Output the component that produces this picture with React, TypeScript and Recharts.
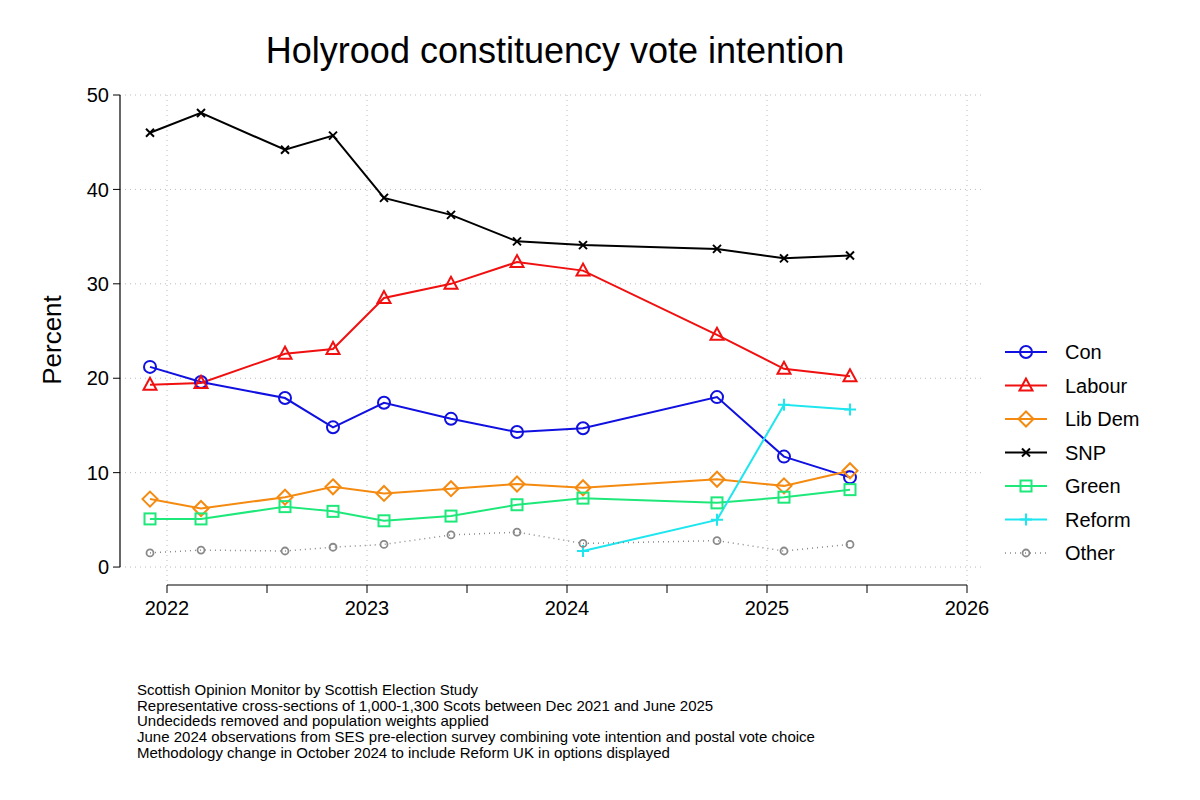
import React from 'react';
import { LineChart, Line, XAxis, YAxis, CartesianGrid, ReferenceLine } from 'recharts';

const waveDates = [2021.915, 2022.17, 2022.59, 2022.83, 2023.085, 2023.42, 2023.75, 2024.08, 2024.75, 2025.085, 2025.415];
const con = [21.2, 19.6, 17.9, 14.8, 17.4, 15.7, 14.3, 14.7, 18.0, 11.7, 9.5];
const labour = [19.3, 19.5, 22.6, 23.1, 28.5, 30.0, 32.3, 31.4, 24.6, 21.0, 20.2];
const libDem = [7.2, 6.2, 7.4, 8.5, 7.8, 8.3, 8.8, 8.4, 9.3, 8.6, 10.2];
const snp = [46.0, 48.1, 44.2, 45.7, 39.1, 37.3, 34.5, 34.1, 33.7, 32.7, 33.0];
const green = [5.1, 5.1, 6.4, 5.9, 4.9, 5.4, 6.6, 7.3, 6.8, 7.4, 8.2];
const reform = [null, null, null, null, null, null, null, 1.7, 5.0, 17.2, 16.7];
const other = [1.5, 1.8, 1.7, 2.1, 2.4, 3.4, 3.7, 2.5, 2.8, 1.7, 2.4];

const yearTicks = [2022, 2022.5, 2023, 2023.5, 2024, 2024.5, 2025, 2025.5, 2026];
const yTicks = [0, 10, 20, 30, 40, 50];

const notes = [
  'Scottish Opinion Monitor by Scottish Election Study',
  'Representative cross-sections of 1,000-1,300 Scots between Dec 2021 and June 2025',
  'Undecideds removed and population weights applied',
  'June 2024 observations from SES pre-election survey combining vote intention and postal vote choice',
  'Methodology change in October 2024 to include Reform UK in options displayed',
];

const data = waveDates.map((t, i) => ({
  t, con: con[i], labour: labour[i], libDem: libDem[i], snp: snp[i],
  green: green[i], reform: reform[i], other: other[i],
}));

const FONT = '"Liberation Sans", Arial, sans-serif';

type Shape = 'circle' | 'triangle' | 'diamond' | 'x' | 'square' | 'plus' | 'small';

const marker = (shape: Shape, color: string, cx: number, cy: number, key?: string | number) => {
  const p = { stroke: color, strokeWidth: 2, fill: 'none' };
  switch (shape) {
    case 'circle': return <circle key={key} cx={cx} cy={cy} r={6} {...p} />;
    case 'triangle': return <polygon key={key} points={`${cx},${cy - 7} ${cx - 6.5},${cy + 5} ${cx + 6.5},${cy + 5}`} {...p} />;
    case 'diamond': return <polygon key={key} points={`${cx},${cy - 7.5} ${cx + 7.5},${cy} ${cx},${cy + 7.5} ${cx - 7.5},${cy}`} {...p} />;
    case 'square': return <rect key={key} x={cx - 5.5} y={cy - 5.5} width={11} height={11} {...p} />;
    case 'x': return <path key={key} d={`M${cx - 4},${cy - 4}L${cx + 4},${cy + 4}M${cx - 4},${cy + 4}L${cx + 4},${cy - 4}`} {...p} />;
    case 'plus': return <path key={key} d={`M${cx - 6},${cy}L${cx + 6},${cy}M${cx},${cy - 6}L${cx},${cy + 6}`} {...p} />;
    default: return <circle key={key} cx={cx} cy={cy} r={3.5} stroke={color} strokeWidth={1.8} fill="none" />;
  }
};

const series: { key: string; name: string; color: string; shape: Shape; dash?: string; width?: number }[] = [
  { key: 'con', name: 'Con', color: '#1010e0', shape: 'circle' },
  { key: 'labour', name: 'Labour', color: '#f01010', shape: 'triangle' },
  { key: 'libDem', name: 'Lib Dem', color: '#f58a10', shape: 'diamond' },
  { key: 'snp', name: 'SNP', color: '#000000', shape: 'x' },
  { key: 'green', name: 'Green', color: '#1ee87a', shape: 'square' },
  { key: 'reform', name: 'Reform', color: '#1ee6ee', shape: 'plus' },
  { key: 'other', name: 'Other', color: '#8a8a8a', shape: 'small', dash: '1 4', width: 1.5 },
];

const App = () => (
  <div style={{ position: 'absolute', left: 0, top: 0, width: 1200, height: 800, background: '#fff', fontFamily: FONT }}>
    <LineChart width={1200} height={800} data={data} margin={{ top: 95, right: 215, left: 0, bottom: 0 }}>
      <CartesianGrid stroke="#bbb" strokeDasharray="1 4" verticalValues={[2022, 2023, 2024, 2025, 2026]} horizontalValues={yTicks} />
      <XAxis dataKey="t" type="number" domain={[2021.765, 2026.09]} ticks={yearTicks} height={215}
        tickFormatter={(v: number) => (Number.isInteger(v) ? String(v) : '')}
        axisLine={false} tickSize={8} tickMargin={8} tickLine={{ stroke: '#000' }}
        tick={{ fill: '#000', fontSize: 20, fontFamily: FONT }} />
      <YAxis type="number" domain={[-1.9, 50]} ticks={yTicks} width={120} axisLine={false}
        tickSize={7} tickMargin={4} tickLine={{ stroke: '#000' }} tick={{ fill: '#000', fontSize: 20, fontFamily: FONT }}
        label={{ value: 'Percent', angle: -90, position: 'insideLeft', offset: 52, style: { fontSize: 26, fill: '#000', fontFamily: FONT, textAnchor: 'middle' } }} />
      <ReferenceLine segment={[{ x: 2022, y: -1.9 }, { x: 2026, y: -1.9 }]} stroke="#000" strokeWidth={1.2} ifOverflow="visible" />
      <ReferenceLine segment={[{ x: 2021.765, y: 0 }, { x: 2021.765, y: 50 }]} stroke="#000" strokeWidth={1.2} ifOverflow="visible" />
      {series.map((s) => (
        <Line key={s.key} dataKey={s.key} stroke={s.color} strokeWidth={s.width ?? 2}
          strokeDasharray={s.dash} isAnimationActive={false} connectNulls={false}
          dot={(props: any) => (props.value == null ? <g key={props.index} /> : marker(s.shape, s.color, props.cx, props.cy, props.index))}
          activeDot={false} />
      ))}
      <text x={555} y={63} textAnchor="middle" fontSize={36} fontFamily={FONT} fill="#000">Holyrood constituency vote intention</text>
      {series.map((s, i) => {
        const y = 352 + i * 33.5;
        return (
          <g key={s.key}>
            <line x1={1005} x2={1047} y1={y} y2={y} stroke={s.color} strokeWidth={s.width ?? 2} strokeDasharray={s.dash} />
            {marker(s.shape, s.color, 1026, y)}
            <text x={1065} y={y + 7} fontSize={20} fontFamily={FONT} fill="#000">{s.name}</text>
          </g>
        );
      })}
      {notes.map((n, i) => (
        <text key={i} x={137} y={695 + i * 15.7} fontSize={15} fontFamily={FONT} fill="#000">{n}</text>
      ))}
    </LineChart>
  </div>
);

export default App;
